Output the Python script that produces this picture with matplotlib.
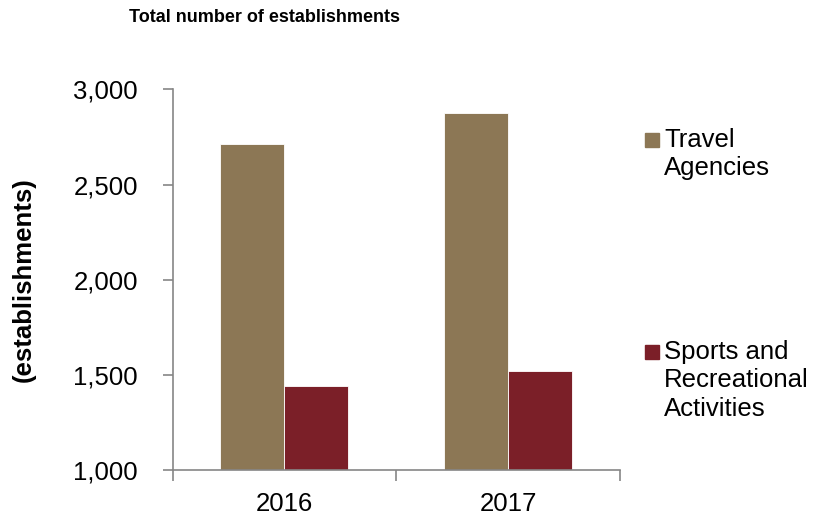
import matplotlib
matplotlib.use("Agg")
import matplotlib.pyplot as plt
from matplotlib.patches import Rectangle
from matplotlib.ticker import FuncFormatter
import numpy as np

# Data
years = ["2016", "2017"]
travel_agencies = [2714, 2879]
sports_recreation = [1440, 1522]
series_labels = ["Travel\nAgencies", "Sports and\nRecreational\nActivities"]
series_colors = ["#8C7755", "#7B1F28"]

plt.rcParams["font.family"] = ["Liberation Sans", "DejaVu Sans"]
fs = 18.5

fig = plt.figure(figsize=(8.22, 5.17), dpi=100)
ax = fig.add_axes([0.210, 0.0909, 0.544, 0.736])

x = np.arange(len(years))
width = 0.286
ax.bar(x - width / 2, travel_agencies, width, color=series_colors[0],
       edgecolor="white", linewidth=0.6)
ax.bar(x + width / 2, sports_recreation, width, color=series_colors[1],
       edgecolor="white", linewidth=0.6)

ax.set_xlim(-0.5, len(years) - 0.5)
ax.set_ylim(1000, 3000)
ax.set_yticks([1000, 1500, 2000, 2500, 3000])
ax.yaxis.set_major_formatter(FuncFormatter(lambda v, p: f"{int(v):,}"))

# category labels centred, tick marks on the category boundaries
ax.set_xticks(x)
ax.set_xticklabels(years)
ax.set_xticks(np.arange(len(years) + 1) - 0.5, minor=True)
ax.tick_params(axis="x", which="major", length=0, labelsize=fs, pad=15.5)
ax.tick_params(axis="x", which="minor", length=8, color="#868686", width=1.2)
ax.tick_params(axis="y", length=7, color="#868686", width=1.2, labelsize=fs, pad=18)

for side in ["top", "right"]:
    ax.spines[side].set_visible(False)
for side in ["left", "bottom"]:
    ax.spines[side].set_color("#868686")
    ax.spines[side].set_linewidth(1.2)

ax.set_ylabel("(establishments)", fontsize=fs, fontweight="bold", labelpad=0)
ax.yaxis.set_label_coords(-0.306, 0.5)

fig.text(264 / 822, 1 - 18 / 517, "Total number of establishments",
         ha="center", va="center", fontsize=13, fontweight="bold")

# manual legend, spread out like the original
legend_tops = [133, 345]
for label, color, top in zip(series_labels, series_colors, legend_tops):
    fig.patches.append(Rectangle((645 / 822, 1 - (top + 14) / 517), 14 / 822, 14 / 517,
                                 transform=fig.transFigure, color=color))
    fig.text(664 / 822, 1 - (top - 5) / 517, label, ha="left", va="top",
             fontsize=fs, linespacing=1.23)

fig.savefig("out.png", dpi=100)
